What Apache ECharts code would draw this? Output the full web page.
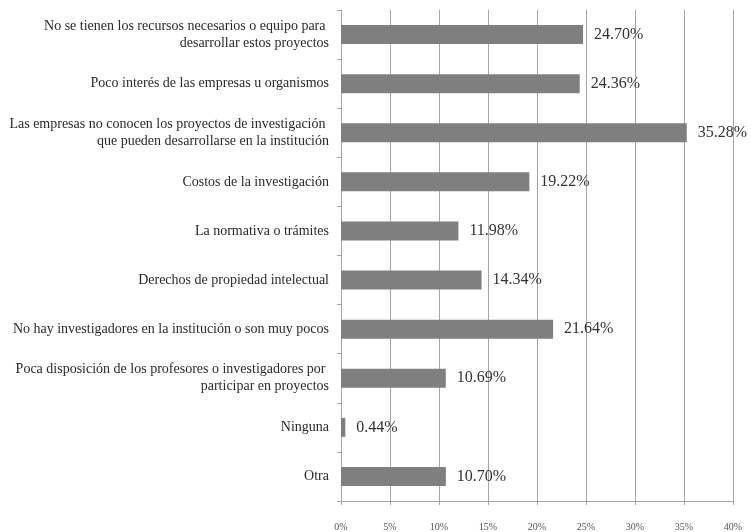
<!DOCTYPE html>
<html>
<head>
<meta charset="utf-8">
<script src="https://cdn.jsdelivr.net/npm/echarts@6/dist/echarts.min.js"></script>
<style>
html,body{margin:0;padding:0;background:#fff;}
#main{width:751px;height:532px;}
</style>
</head>
<body>
<div id="main"></div>
<script>
// 分类
let categories = [
    'No se tienen los recursos necesarios o equipo para \ndesarrollar estos proyectos',
    'Poco interés de las empresas u organismos',
    'Las empresas no conocen los proyectos de investigación \nque pueden desarrollarse en la institución',
    'Costos de la investigación',
    'La normativa o trámites',
    'Derechos de propiedad intelectual',
    'No hay investigadores en la institución o son muy pocos',
    'Poca disposición de los profesores o investigadores por \nparticipar en proyectos',
    'Ninguna',
    'Otra'
]
// 百分比
let values = [24.70, 24.36, 35.28, 19.22, 11.98, 14.34, 21.64, 10.69, 0.44, 10.70]
let xTicks = [0, 5, 10, 15, 20, 25, 30, 35, 40]

let chart = echarts.init(document.getElementById('main'))

let option = {
    animation:false,
    textStyle:{
        fontFamily:'Liberation Serif'
    },
    grid:{
        left:341,
        right:18,
        top:10,
        bottom:31
    },
    xAxis:{
        type:'value',
        min:xTicks[0],
        max:xTicks[xTicks.length-1],
        interval:5,
        axisLine:{
            show:true,
            lineStyle:{color:'#a6a6a6'}
        },
        axisTick:{
            show:true,
            length:4,
            inside:false,
            lineStyle:{color:'#a6a6a6'}
        },
        splitLine:{
            lineStyle:{color:'#a6a6a6',width:1}
        },
        axisLabel:{
            margin:21,
            color:'#555',
            fontSize:10,
            fontFamily:'Liberation Serif',
            formatter:'{value}%'
        }
    },
    yAxis:{
        type:'category',
        inverse:true,
        data:categories,
        axisLine:{
            lineStyle:{color:'#a6a6a6'}
        },
        axisTick:{
            show:true,
            length:4,
            lineStyle:{color:'#a6a6a6'}
        },
        axisLabel:{
            margin:12,
            color:'#2a2a2a',
            fontSize:14,
            lineHeight:17,
            align:'right',
            fontFamily:'Liberation Serif'
        }
    },
    series:[{
        type:'bar',
        data:values,
        barWidth:19,
        itemStyle:{
            color:'#7f7f7f'
        },
        label:{
            show:true,
            position:'right',
            distance:11,
            color:'#333',
            fontSize:16,
            fontFamily:'Liberation Serif',
            formatter:function(p){
                return p.value.toFixed(2)+'%'
            }
        }
    }]
}

chart.setOption(option)
</script>
</body>
</html>
